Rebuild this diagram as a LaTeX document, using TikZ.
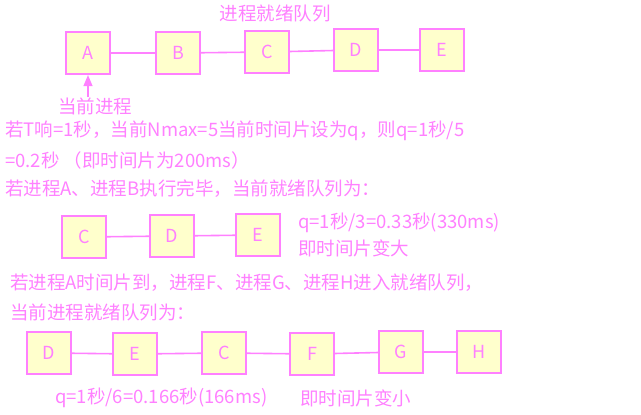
\documentclass[tikz,border=0pt]{standalone}
\usepackage{fontspec}
\setmainfont{Noto Sans CJK SC}
\usetikzlibrary{arrows,positioning}
\definecolor{pinkline}{RGB}{255,128,255}
\definecolor{boxfill}{RGB}{255,255,204}

\begin{document}
\begin{tikzpicture}[x=1pt,y=-1pt,
    proc/.style={draw=pinkline, line width=2.2pt, fill=boxfill, minimum width=44pt, minimum height=42pt, inner sep=0pt, text=pinkline, font=\fontsize{18}{20}\selectfont},
    link/.style={draw=pinkline, line width=1.6pt},
    txt/.style={text=pinkline, inner sep=0pt, anchor=west, font=\fontsize{18.5}{21}\selectfont}]
        \useasboundingbox (0,0) rectangle (641,415);

        % first ready queue
        \node[txt, anchor=center] (title) at (275,13) {进程就绪队列};
        \node[proc] (a) at (88,53) {A};
        \node[proc] (b) at (178,53) {B};
        \node[proc] (c) at (267,52) {C};
        \node[proc] (d) at (356,50) {D};
        \node[proc] (e) at (442,50) {E};
        \draw[link] (a) -- (b);
        \draw[link] (b) -- (c);
        \draw[link] (c) -- (d);
        \draw[link] (d) -- (e);
        \node[txt, anchor=center] (cur) at (95,106) {当前进程};
        \draw[link, -triangle 45] (cur.north -| a) -- (a);

        \node[txt] (l1) at (5,131) {若T响=1秒，当前Nmax=5当前时间片设为q，则q=1秒/5};
        \node[txt] (l2) at (5,160) {=0.2秒 （即时间片为200ms）};
        \node[txt] (l3) at (5,189) {若进程A、进程B执行完毕，当前就绪队列为：};

        % after A and B finish
        \node[proc] (c2) at (84,237) {C};
        \node[proc] (d2) at (172,236) {D};
        \node[proc] (e2) at (258,235) {E};
        \draw[link] (c2) -- (d2);
        \draw[link] (d2) -- (e2);
        \node[txt] (q2) at (298,223) {q=1秒/3=0.33秒(330ms)};
        \node[txt] (big) at (298,248) {即时间片变大};

        \node[txt] (l4) at (10,283) {若进程A时间片到，进程F、进程G、进程H进入就绪队列，};
        \node[txt] (l5) at (10,312) {当前进程就绪队列为：};

        % after F, G, H join
        \node[proc] (d3) at (49,353) {D};
        \node[proc] (e3) at (135,354) {E};
        \node[proc] (c3) at (224,353) {C};
        \node[proc] (f3) at (312,354) {F};
        \node[proc] (g3) at (401,352) {G};
        \node[proc] (h3) at (479,352) {H};
        \draw[link] (d3) -- (e3);
        \draw[link] (e3) -- (c3);
        \draw[link] (c3) -- (f3);
        \draw[link] (f3) -- (g3);
        \draw[link] (g3) -- (h3);
        \node[txt] (q3) at (55,398) {q=1秒/6=0.166秒(166ms)};
        \node[txt] (small) at (300,398) {即时间片变小};
    \end{tikzpicture}
\end{document}
